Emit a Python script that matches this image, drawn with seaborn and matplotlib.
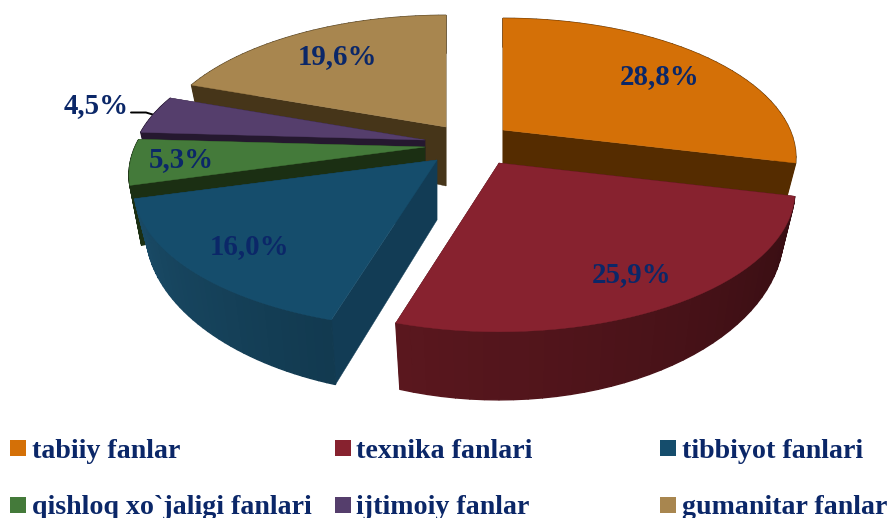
import numpy as np
import matplotlib.pyplot as plt
import seaborn as sns

labels = ["tabiiy fanlar", "texnika fanlari", "tibbiyot fanlari",
          "qishloq xo`jaligi fanlari", "ijtimoiy fanlar", "gumanitar fanlar"]
values = [28.8, 25.9, 16.0, 5.3, 4.5, 19.6]
value_labels = ["28,8%", "25,9%", "16,0%", "5,3%", "4,5%", "19,6%"]

colors = ["#D47007", "#87222F", "#154D6C", "#447A3A", "#553E6C", "#A8864F"]
inner = ["#552C00", "#3C0F14", "#123C55", "#1B2F13", "#25182F", "#463519"]
wall_a = ["#552C00", "#360D12", "#123A50", "#1B2F13", "#25182F", "#463519"]
wall_b = ["#552C00", "#5A171E", "#1A4C68", "#1B2F13", "#25182F", "#463519"]

# pixel layout of the exploded slices
apex = [(503, 130), (499, 163), (437, 160), (425, 147), (425, 140), (446, 127)]
rad_x = [287, 290, 297, 290, 288, 288]
rad_y = [134, 135, 135, 134, 134, 134]
height = [40, 41, 40, 53, 50, 55]
apex_drop = [40, 41, 60, 53, 50, 59]
label_pos = [(660, 77), (632, 275), (250, 247), (181, 160), (96, 106), (338, 57)]
legend_x = [11, 336, 661]
legend_y = [448, 505]

sns.set_theme(style="white")
plt.rcParams["font.family"] = ["Liberation Serif", "DejaVu Serif"]
text_color = "#0B2768"

fig = plt.figure(figsize=(8.9, 5.18), dpi=100)
ax = fig.add_axes([0, 0, 1, 1])
ax.set_xlim(0, 890)
ax.set_ylim(518, 0)
ax.axis("off")

p = 0.2
shrink = 0.96
edges = np.cumsum([0] + values) / sum(values) * 2 * np.pi


def project(i, th):
    X = np.sin(th)
    Y = np.cos(th)
    f = 1 / (1 + p * Y)
    dx = rad_x[i] * X * f
    dy = -rad_y[i] * Y * f
    d = height[i] * f ** 2.7
    return dx, dy, d


def ring(i, th):
    dx, dy, d = project(i, th)
    ax0, ay0 = apex[i]
    return ax0 + dx, ay0 + dy, ax0 + shrink * dx, ay0 + d + shrink * dy


for i in [5, 4, 3, 0, 2, 1]:
    th = np.linspace(edges[i], edges[i + 1], 40)
    x, y, xb, yb = ring(i, th)
    ax0, ay0 = apex[i]
    d0 = apex_drop[i]
    # cut faces
    for k in [0, -1]:
        ax.fill([ax0, x[k], xb[k], ax0], [ay0, y[k], yb[k], ay0 + d0],
                color=inner[i], lw=0.3, zorder=1)
    # outer wall, split up for the shading
    shades = sns.blend_palette([wall_a[i], wall_b[i]], len(th) - 1)
    order = np.argsort(np.cos(th[:-1]))[::-1]
    for k in order:
        ax.fill([x[k], x[k + 1], xb[k + 1], xb[k]],
                [y[k], y[k + 1], yb[k + 1], yb[k]],
                color=shades[k], lw=1.0, zorder=1)
    ax.fill(np.r_[ax0, x], np.r_[ay0, y], color=colors[i], lw=0.3, zorder=1)

for i, s in enumerate(value_labels):
    ax.text(label_pos[i][0], label_pos[i][1], s, color=text_color, fontsize=20.8,
            fontweight="bold", ha="center", va="center", zorder=5)
ax.plot([131, 146, 156], [112.5, 112.5, 115.5], color="black", lw=1.4, zorder=0.5)

for i, name in enumerate(labels):
    lx = legend_x[i % 3]
    ly = legend_y[i // 3]
    ax.scatter([lx + 7], [ly], marker="s", s=142, color=colors[i], lw=0, zorder=5)
    ax.text(lx + 20.5, ly, name, color=text_color, fontsize=20.2, fontweight="bold",
            ha="left", va="center_baseline", zorder=5)

fig.savefig("out.png", dpi=100)
